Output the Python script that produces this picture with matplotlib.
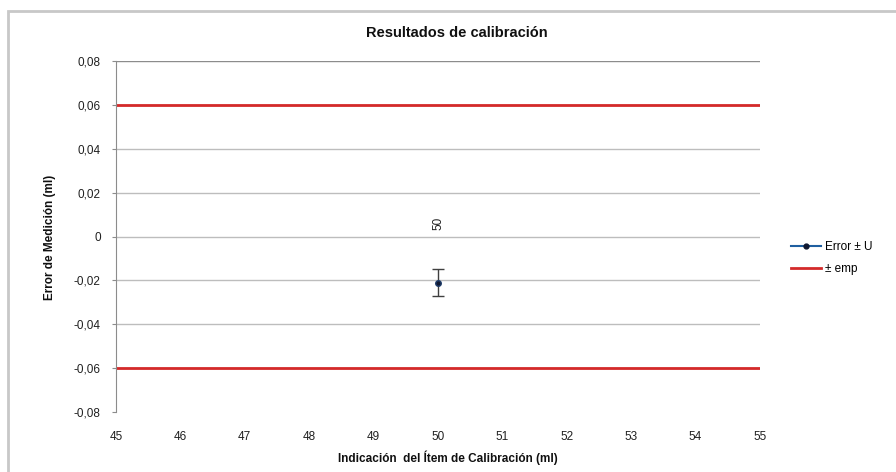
import matplotlib
matplotlib.use("Agg")
import matplotlib.pyplot as plt
from matplotlib.patches import Rectangle
from matplotlib.lines import Line2D

plt.rcParams['font.family'] = ['Liberation Sans Narrow', 'Liberation Sans', 'DejaVu Sans']

# Calibration data
indicacion = [50]
error = [-0.021]
incertidumbre = [0.006]
emp = 0.06
x_ticks = list(range(45, 56))
y_ticks = [-0.08, -0.06, -0.04, -0.02, 0, 0.02, 0.04, 0.06, 0.08]
y_labels = ['-0,08', '-0,06', '-0,04', '-0,02', '0', '0,02', '0,04', '0,06', '0,08']

fig = plt.figure(figsize=(8.96, 4.72), dpi=100)
fig.patch.set_facecolor('white')

# Chart-area frame
fig.patches.append(Rectangle((8 / 896, -0.1), 1.2, 1 - 11 / 472 + 0.1,
                             transform=fig.transFigure, fill=False,
                             edgecolor='#c8c8c8', linewidth=2.0, zorder=0))

ax = fig.add_axes([116 / 896, 1 - 412 / 472, (760 - 116) / 896, (412 - 61) / 472])
ax.set_xlim(45, 55)
ax.set_ylim(-0.08, 0.08)

# Horizontal gridlines
for yv in y_ticks[1:]:
    col = '#8c8c8c' if yv == 0.08 else '#bdbdbd'
    ax.axhline(yv, color=col, linewidth=1.0, zorder=1)

# Maximum permissible error limits
ax.axhline(emp, color='#d42a2a', linewidth=2.0, zorder=2)
ax.axhline(-emp, color='#d42a2a', linewidth=2.0, zorder=2)

# Measurement error with expanded uncertainty
ax.errorbar(indicacion, error, yerr=incertidumbre, fmt='o', color='#1f3d6b',
            markerfacecolor='#101830', markeredgecolor='#1f3d6b', markersize=4,
            ecolor='#404040', elinewidth=1.0, capsize=4, capthick=1.0, zorder=4)

for xi, yi in zip(indicacion, error):
    ax.annotate(str(xi), (xi, yi), xytext=(0, 42.5), textcoords='offset points',
                rotation=90, ha='center', va='center', fontsize=8.5, color='#202020')

ax.set_xticks(x_ticks)
ax.set_xticklabels([str(v) for v in x_ticks], fontsize=8.5, color='#202020')
ax.set_yticks(y_ticks)
ax.set_yticklabels(y_labels, fontsize=8.5, color='#202020')
ax.tick_params(axis='x', length=0, pad=14)
ax.tick_params(axis='y', length=3, direction='out', color='#8c8c8c', pad=8)

for side in ['top', 'right', 'bottom']:
    ax.spines[side].set_visible(False)
ax.spines['left'].set_color('#8c8c8c')

fig.text(457 / 896, 1 - 33 / 472, 'Resultados de calibración', ha='center',
         va='center', fontsize=10.5, fontweight='bold', color='#101010')
fig.text(448 / 896, 1 - 458 / 472, 'Indicación  del Ítem de Calibración (ml)',
         ha='center', va='center', fontsize=8.5, fontweight='bold', color='#101010')
fig.text(50 / 896, 1 - 237 / 472, 'Error de Medición (ml)', ha='center',
         va='center', rotation=90, fontsize=8.5, fontweight='bold', color='#101010')

handles = [
    Line2D([], [], color='#1f5fa0', linewidth=1.5, marker='o', markersize=3.5,
           markerfacecolor='#101830', markeredgecolor='#101830'),
    Line2D([], [], color='#d42a2a', linewidth=2.0),
]
fig.legend(handles, ['Error ± U', '± emp'], loc='center left',
           bbox_to_anchor=(780 / 896, 1 - 258 / 472), frameon=False,
           fontsize=8.5, handlelength=2.6, handletextpad=0.3, labelspacing=0.9)

fig.savefig('out.png', dpi=100, facecolor='white')
